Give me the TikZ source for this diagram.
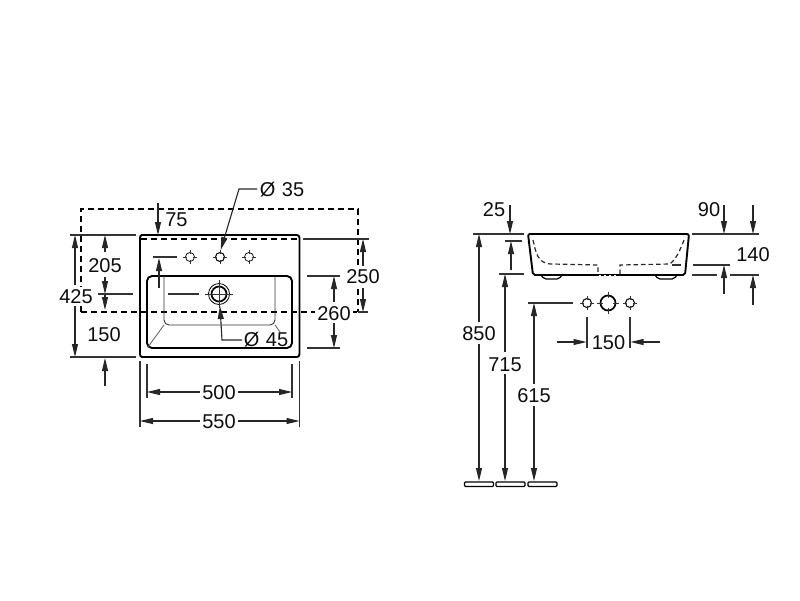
\documentclass[tikz,border=0pt]{standalone}
\usepackage{fontspec}
\setmainfont{Liberation Sans}
\usetikzlibrary{arrows.meta}
\tikzset{
 x=1pt,y=-1pt,
 outline/.style={line width=1.9pt,black,line join=round},
 thin line/.style={line width=0.9pt,black!80},
 hidden/.style={line width=1.6pt,black,dash pattern=on 6pt off 4pt},
 hiddenthin/.style={line width=1.2pt,black!85,dash pattern=on 4.5pt off 3pt},
 ext/.style={line width=1.1pt,black!80},
 dim/.style={line width=1.1pt,black!85,-{Triangle[length=13pt,width=6pt]}},
 dimb/.style={line width=1.1pt,black!85,{Triangle[length=13pt,width=6pt]}-{Triangle[length=13pt,width=6pt]}},
 lab/.style={font=\fontsize{20}{20}\selectfont,fill=white,inner sep=2.5pt,text=black!95,yshift=-0.7pt},
 labn/.style={font=\fontsize{20}{20}\selectfont,inner sep=0pt,text=black!95,yshift=-0.7pt},
}
\newcommand{\taphole}[3]{%
 \draw[line width=#3] (#1,#2) circle (4.5pt);
 \draw[line width=0.7pt,black!80] (#1-7,#2)--(#1-3,#2) (#1+3,#2)--(#1+7,#2) (#1,#2-7)--(#1,#2-3) (#1,#2+3)--(#1,#2+7);}
\begin{document}
\begin{tikzpicture}
\useasboundingbox (0,0) rectangle (800,600);
% plan view
\draw[hidden] (81,312) -- (81,209) -- (358,209) -- (358,312);
\draw[hidden] (81,312) -- (358,312);
\draw[outline] (142,235) -- (297,235) to[out=0,in=90] (299.5,238) -- (299.5,354) to[out=-90,in=0] (297,357) -- (142,357) to[out=180,in=-90] (140,354) -- (140,238) to[out=90,in=180] (142,235) -- cycle;
\draw[hidden,line width=1.3pt] (141,239) -- (299,239);
\draw[outline,rounded corners=5pt] (147,276) rectangle (292,348);
\draw[thin line,rounded corners=5pt] (164,276) -- (164,325) -- (275,325) -- (275,276);
\draw[thin line,black!60] (164,325) -- (148,347) (275,325) -- (280,332);
% tap holes
\taphole{190}{257}{0.7pt}
\taphole{220}{257}{1pt}
\taphole{249}{257}{0.7pt}
% waste
\draw[line width=0.8pt] (219,294) circle (10.5pt);
\draw[line width=1.7pt] (219,294) circle (7.5pt);
\draw[line width=0.7pt,black!80] (205,294)--(233,294) (219,280)--(219,308);
\draw[ext] (168,294) -- (199,294);
% leaders
\draw[dim] (257,189) -- (239,189) -- (220.7,250);
\draw[dim] (242,340) -- (222,340) -- (220,306);
\node[labn] (d35) at (282,189) {Ø\kern1pt\ 35};
\node[labn] (d45) at (266,339) {Ø\kern1pt\ 45};
% 75
\draw[dim] (158,203) -- (158,235);
\draw[dim] (159,288) -- (159,258);
\draw[ext] (153,257) -- (177,257);
\node[labn] (t75) at (176.5,219) {75};
% left dims
\draw[ext] (70,235) -- (136,235) (70,357) -- (136,357) (98,294) -- (133,294);
\draw[dim] (75,285) -- (75,235);
\draw[dim] (75,305) -- (75,357);
\draw[dim] (105,252) -- (105,235);
\draw[dim] (105,277) -- (105,294);
\draw[dim] (105,295) -- (105,310);
\draw[dim] (105,386) -- (105,358);
\node[labn] (t205) at (105,265) {205};
\node[lab] (t425) at (76,296) {425};
\node[labn] (t150a) at (104,334) {150};
% right dims
\draw[ext] (303,239) -- (369,239) (307,276) -- (340,276) (307,348) -- (340,348) (358,312) -- (368,312);
\draw[dim] (363,266) -- (363,239);
\draw[dim] (363,288) -- (363,312);
\draw[dim] (334,302) -- (334,276);
\draw[dim] (334,323) -- (334,348);
\node[lab] (t250) at (363,276) {250};
\node[lab] (t260) at (334,312.5) {260};
% bottom dims
\draw[ext] (147,364) -- (147,398) (292,364) -- (292,398) (140,361) -- (140,427) (299.5,361) -- (299.5,427);
\draw[dimb] (147,392) -- (292,392);
\draw[dimb] (140,421) -- (299.5,421);
\node[lab] (t500) at (219,392) {500};
\node[lab] (t550) at (219,421) {550};
% side view
\draw[outline,rounded corners=2pt] (528,234) -- (689,234) -- (685,275) -- (533,275) -- cycle;
\draw[white,line width=1pt,dash pattern=on 2pt off 3pt] (599,275) -- (619,275);
\draw[line width=1.2pt,rounded corners=2pt] (541,275) -- (544,279) -- (559,279) -- (562,275);
\draw[line width=1.2pt,rounded corners=2pt] (655,275) -- (658,279) -- (674,279) -- (677,275);
\draw[hiddenthin] (533,240) .. controls (536,252) and (537,264) .. (552,264) -- (598,265) -- (598,274);
\draw[hiddenthin] (620,274) -- (620,265) -- (670,264) .. controls (677,258) and (680,250) .. (684,240) -- (686,240);
\draw[ext] (672,265) -- (681,265);
% side dims left
\draw[ext] (473,234) -- (524,234) (505,241) -- (522,241) (499,274) -- (524,274) (528,303) -- (573,303);
\draw[dim] (510,205) -- (510,234);
\draw[dim] (511,270) -- (511,241);
\node[labn] (t25) at (494,209) {25};
\draw[dim] (479,322) -- (479,234);
\draw[dim] (479,344) -- (479,481);
\node[lab] (t850) at (479,333) {850};
\draw[dim] (505,352) -- (505,274);
\draw[dim] (505,374) -- (505,481);
\node[lab] (t715) at (505,364) {715};
\draw[dim] (534,384) -- (534,303);
\draw[dim] (534,406) -- (534,481);
\node[lab] (t615) at (534,395) {615};
\draw[line width=1.1pt,rounded corners=1pt] (464.5,482) rectangle (493.5,486.5) (496,482) rectangle (525,486.5) (528,482) rectangle (557,486.5);
% side holes
\taphole{587}{303}{1pt}
\taphole{630}{303}{1pt}
\draw[line width=1.7pt] (608,303) circle (7.5pt);
\draw[line width=0.7pt,black!80] (597,303)--(603,303) (613,303)--(619,303) (608,292)--(608,298) (608,308)--(608,314);
\draw[ext] (587,317) -- (587,348) (630,317) -- (630,348);
\draw[dim] (557,342) -- (586.5,342);
\draw[dim] (660,342) -- (630.5,342);
\node[labn] (t150b) at (608.5,342) {150};
% side dims right
\draw[ext] (692,234) -- (759,234);
\draw[ext,line width=1.5pt] (693,265) -- (730,265);
\draw[ext] (692,275) -- (717,275) (730,275) -- (759,275);
\draw[dim] (724,205) -- (724,234);
\draw[dim] (753,205) -- (753,234);
\draw[dim] (724,294) -- (724,265);
\draw[dim] (753,305) -- (753,275);
\node[labn] (t90) at (709,209) {90};
\node[labn] (t140) at (753,254) {140};
\end{tikzpicture}
\end{document}
